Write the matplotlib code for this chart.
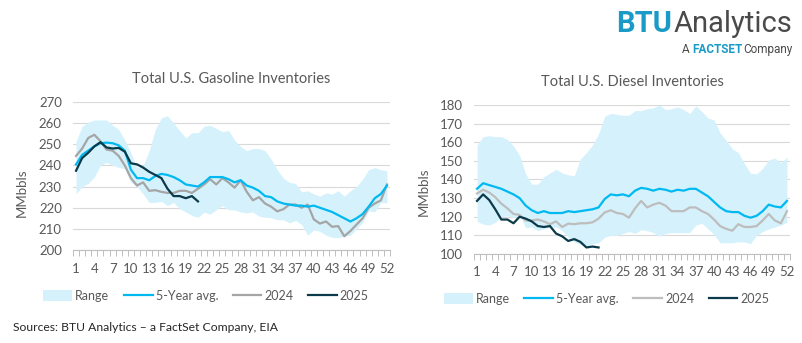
import matplotlib
matplotlib.use("Agg")
import matplotlib.pyplot as plt
from matplotlib.patches import Patch
from matplotlib.lines import Line2D
from matplotlib.transforms import IdentityTransform
import numpy as np

plt.rcParams["font.family"] = ["Lato", "DejaVu Sans"]

weeks = np.arange(1, 53)
xtick_weeks = list(range(1, 53, 3))

# Gasoline (MMbbls)
gas_range_hi = [251.5, 258.5, 260.5, 261.5, 261.5, 261.5, 259, 257, 252, 246, 239, 240, 247, 257,
                262.5, 263.5, 260, 256.5, 253, 255.5, 255.5, 258.5, 259, 257.5, 256, 256.5, 252,
                249, 247, 248, 248, 247, 243, 238, 234, 232, 231.5, 227.5, 228, 226.5, 225.5, 227,
                226.5, 228, 225.5, 228, 230, 233.5, 238, 239, 238, 237.5]
gas_range_lo = [226.5, 230, 231.5, 234.5, 240, 241.5, 240, 239, 238.5, 232, 230, 226.5, 222.5, 222.5,
                223, 221, 222.5, 219.5, 218, 216.3, 215.5, 217.8, 217, 219, 221, 219, 219, 218,
                217.5, 218, 216, 215.5, 215.3, 214.3, 214.3, 212.8, 214, 212, 207, 209.5, 208.8,
                207, 206, 205.8, 206.5, 207, 210, 213, 218.5, 218, 222.5, 222.3]
gas_avg = [240.5, 245, 247, 249, 250.5, 250.8, 250.5, 249.5, 247, 238, 234, 234, 233, 235, 236,
           235.5, 234.5, 233, 231, 230.5, 230, 232, 234.5, 234.5, 234.5, 233.5, 232, 233, 230.5,
           229.5, 228, 225.5, 225, 223, 222, 221.5, 221, 221, 220.5, 221, 220, 219, 218, 216.5,
           215, 213.5, 215, 217, 220.5, 224.5, 226.5, 230.5]
gas_2024 = [244.5, 248, 253, 254.5, 251.5, 247.5, 247, 244.5, 240, 234, 230.5, 232, 228, 228.3,
            227.5, 227, 227, 228, 228, 227, 229, 231, 233.5, 231, 234, 232, 229.5, 233, 227.5,
            223.5, 225, 222, 220.5, 218.3, 219.3, 221.5, 221.5, 220, 221.5, 214.5, 212.5, 213.5,
            211, 211.3, 206.5, 209, 212, 215, 220, 222, 223.5, 231]
gas_2025 = [237.5, 243.5, 246, 249, 251, 248.5, 248, 248.3, 246.5, 241, 240.5, 239, 237, 235.5,
            234, 229, 225.5, 225.5, 224.5, 225.5, 223]

# Diesel (MMbbls)
dsl_range_hi = [158.5, 163, 163.5, 163, 163, 161.5, 158, 153, 143, 137.5, 137.5, 141.5, 143.5, 145.5,
                143.5, 142.5, 142, 151, 154.5, 158.5, 164.5, 174, 175.5, 175, 174.5, 174.5, 177,
                177, 178, 178.5, 180, 177.5, 178, 179, 177.5, 175.5, 179.5, 176.5, 173, 172, 165,
                161, 156.5, 154.5, 148.5, 143.5, 143, 146, 150.5, 151.5, 149, 152]
dsl_range_lo = [117.5, 116, 115.5, 117, 120, 120.5, 119.5, 121, 114, 114.5, 112.5, 113.5, 114.5,
                114.5, 112.5, 109, 106.5, 105, 104.5, 105.5, 106, 109, 110, 110, 111, 112, 111,
                113, 112.5, 111.5, 109.5, 111, 111.5, 111.5, 111.5, 111.5, 115.5, 116.5, 113.5,
                110.5, 106, 106, 106, 106.5, 106.5, 105.5, 110, 112, 113.5, 114.5, 115.5, 117]
dsl_avg = [135, 138, 137, 136, 135, 133.5, 132, 130, 126, 123.5, 122, 123, 122, 122, 122, 123,
           122.5, 123, 123.5, 124, 125, 129.5, 132, 131.5, 132, 131, 134, 135.5, 135, 134, 135,
           134.5, 133.5, 134.5, 134, 135, 135, 133, 131, 128, 125, 123, 122.5, 122.5, 120.5,
           119.5, 120.5, 123, 126.5, 125.5, 125, 128.5]
dsl_2024 = [132.5, 134.5, 133, 130.5, 127, 124.5, 121.5, 121, 118, 118, 118.5, 117.5, 116, 117.5,
            114.5, 116.3, 116, 116.5, 116.5, 117, 119, 122.3, 123.5, 122, 121.5, 119.5, 124.5,
            128.5, 125, 126.5, 127.5, 126, 123, 123, 123, 125, 125, 123, 121.5, 118.5, 115,
            113.5, 112.5, 116, 114.5, 114.5, 115, 118, 121.5, 118, 116.5, 123]
dsl_2025 = [128.5, 132, 129, 124, 118.5, 118.5, 116.5, 120, 119, 117.5, 115, 114.5, 115, 111,
            109.5, 107, 108, 106.5, 103.5, 104, 103.5]

RANGE_COLOR = "#d5f2fc"
AVG_COLOR = "#00b9f1"
Y25_COLOR = "#0b3a4a"
TEXT_COLOR = "#595959"


def draw_panel(ax, title, lo, hi, avg, y24, y25, ylim, yticks, gray, ylabel_xy, legend_xy):
    ax.fill_between(weeks, lo, hi, color=RANGE_COLOR, linewidth=0, zorder=1)
    ax.plot(weeks, avg, color=AVG_COLOR, lw=1.6, zorder=3)
    ax.plot(weeks, y24, color=gray, lw=1.6, zorder=2)
    ax.plot(weeks[:len(y25)], y25, color=Y25_COLOR, lw=1.6, zorder=4)

    ax.set_xlim(0.5, 52.5)
    ax.set_ylim(*ylim)
    ax.set_yticks(yticks)
    ax.set_xticks(xtick_weeks)
    ax.set_xticks(np.arange(0.5, 53, 1), minor=True)
    ax.tick_params(axis="x", which="major", length=0, pad=9, labelsize=9.5, colors=TEXT_COLOR)
    ax.tick_params(axis="x", which="minor", length=4, color="#bfbfbf", width=0.7)
    ax.tick_params(axis="y", length=0, pad=8, labelsize=9.5, colors=TEXT_COLOR)
    ax.grid(axis="y", color="#d9d9d9", lw=0.8, zorder=0)
    ax.set_axisbelow(True)
    for s in ("top", "right", "left"):
        ax.spines[s].set_visible(False)
    ax.spines["bottom"].set_color("#bfbfbf")
    ax.spines["bottom"].set_linewidth(0.8)

    ax.set_title(title, fontsize=10.5, color=TEXT_COLOR, pad=14)
    ax.set_ylabel("MMbbls", fontsize=9.5, color=TEXT_COLOR)
    ax.yaxis.set_label_coords(*ylabel_xy)

    handles = [
        Patch(facecolor=RANGE_COLOR, edgecolor="none"),
        Line2D([], [], color=AVG_COLOR, lw=1.6),
        Line2D([], [], color=gray, lw=1.6),
        Line2D([], [], color=Y25_COLOR, lw=1.6),
    ]
    leg = ax.legend(handles, ["Range", "5-Year avg.", "2024", "2025"], ncol=4,
                    loc="center", bbox_to_anchor=legend_xy, frameon=False,
                    fontsize=9, handlelength=2.3, handleheight=0.9, handletextpad=0.25,
                    columnspacing=1.15, borderpad=0, borderaxespad=0)
    for t in leg.get_texts():
        t.set_color(TEXT_COLOR)


fig = plt.figure(figsize=(8.03, 3.43), dpi=100)
ax_gas = fig.add_axes([0.0909, 0.2711, 0.3948, 0.4315])
ax_dsl = fig.add_axes([0.5903, 0.2595, 0.3935, 0.4344])

draw_panel(ax_gas, "Total U.S. Gasoline Inventories", gas_range_lo, gas_range_hi, gas_avg,
           gas_2024, gas_2025, (200, 270), range(200, 271, 10), "#a5a5a5", (-0.142, 0.39),
           (0.42, -0.31))
draw_panel(ax_dsl, "Total U.S. Diesel Inventories", dsl_range_lo, dsl_range_hi, dsl_avg,
           dsl_2024, dsl_2025, (100, 180), range(100, 181, 10), "#bdbdbd", (-0.139, 0.416),
           (0.42, -0.30))

# logo, laid out right to left from measured text extents
logo_font = ["Roboto", "DejaVu Sans"]
H = fig.bbox.height
t_an = fig.text(0.987, 0.907, "Analytics", fontsize=21, color="#4a4a4a",
                family=logo_font, va="baseline", ha="right")
t_co = fig.text(0.987, 0.845, "Company", fontsize=8.5, color="#4a4a4a", family=logo_font,
                va="baseline", ha="right")
fig.canvas.draw()
r = fig.canvas.get_renderer()
bb_an = t_an.get_window_extent(r)
bb_co = t_co.get_window_extent(r)
fig.text(bb_an.x0 - 2, 0.907 * H, "BTU", fontsize=21, color="#1a9bc7", fontweight="bold",
         family=logo_font, va="baseline", ha="right", transform=IdentityTransform())
t_fs = fig.text(bb_co.x0 - 1, 0.845 * H, "FACTSET", fontsize=8.5, color="#1a9bc7",
                fontweight="bold", family=logo_font, va="baseline", ha="right",
                transform=IdentityTransform())
bb_fs = t_fs.get_window_extent(r)
fig.text(bb_fs.x0 - 3, 0.845 * H, "A", fontsize=8.5, color="#4a4a4a",
         family=logo_font, va="baseline", ha="right", transform=IdentityTransform())

fig.text(0.016, 0.044, "Sources: BTU Analytics \u2013 a FactSet Company, EIA", fontsize=8.7,
         color="#262626", va="center", ha="left")

fig.savefig("out.png", dpi=100)
